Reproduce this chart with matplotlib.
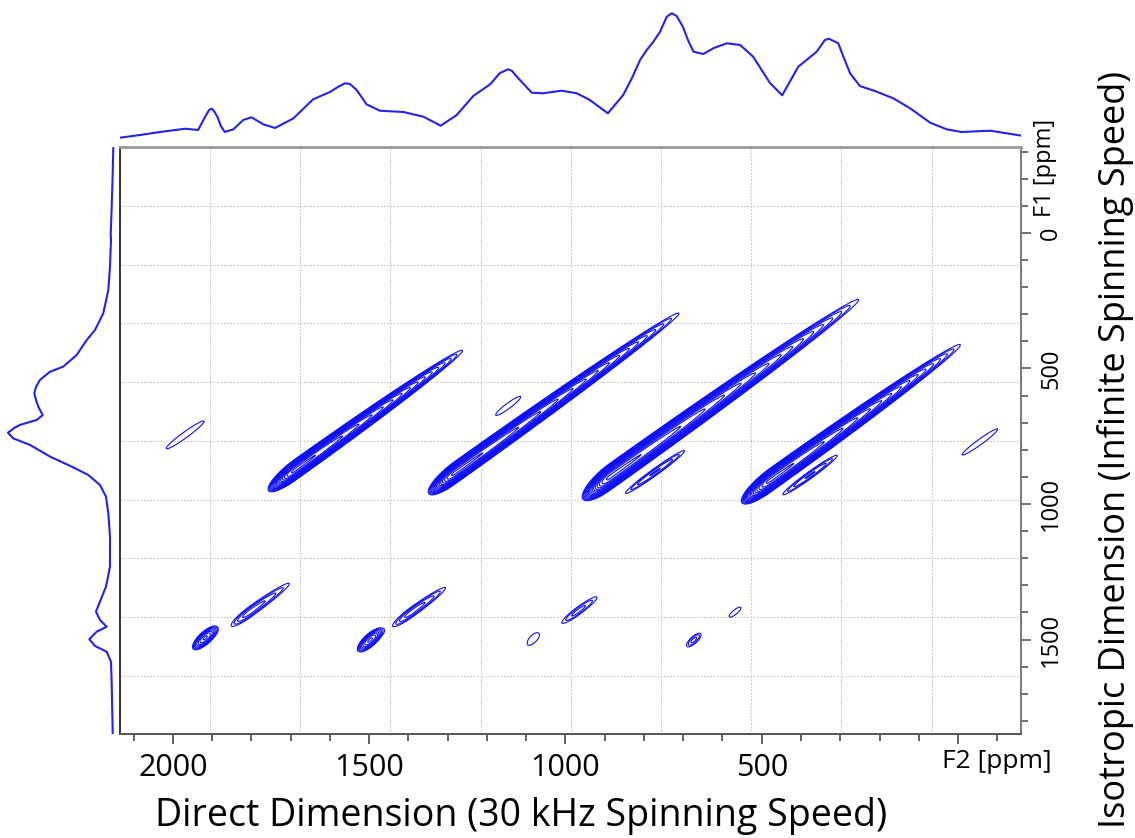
import numpy as np
import matplotlib.pyplot as plt

plt.rcParams['font.family'] = ['Open Sans', 'DejaVu Sans']

# F2 projection (ppm, intensity)
top_ppm = [2135, 2084, 2033, 1969, 1936, 1918, 1908, 1901, 1894, 1887, 1878, 1868,
           1846, 1821, 1800, 1770, 1740, 1693, 1643, 1600, 1580, 1562, 1549, 1532,
           1507, 1473, 1413, 1362, 1318, 1277, 1235, 1192, 1167, 1146, 1136, 1124,
           1086, 1057, 1010, 971, 938, 892, 853, 831, 810, 793, 776, 759, 742, 729,
           717, 701, 688, 674, 649, 622, 589, 555, 522, 479, 448, 407, 360, 339,
           329, 305, 292, 275, 250, 207, 165, 122, 71, 29, -9, -82, -124, -162]
top_int = [0.3, 3, 6, 9.3, 8, 21.3, 28, 29.3, 26, 21.3, 12, 6,
           8.7, 18, 20.7, 13.7, 10, 19.7, 38.7, 46, 51, 54.7, 54, 48,
           33.7, 27.3, 26, 21.3, 12.3, 23, 42, 53.7, 65, 68.7, 67, 61.3,
           45.3, 44.7, 47.3, 44.7, 38, 24.7, 43, 59.7, 78, 88, 96.3, 106.3, 121.3, 124.7,
           122, 111.3, 98, 86.3, 84, 90, 94.7, 93, 81.3, 55, 42.7, 71.3, 86.3, 98,
           99.3, 94.7, 81.3, 64.7, 52, 46.3, 39.7, 29.7, 15.3, 8.7, 6, 7.3, 4.7, 2.3]

# F1 projection (ppm, intensity)
left_ppm = [-318, -220, -97, 7, 26, 124, 210, 296, 358, 395, 450, 493, 512, 542,
            568, 592, 616, 641, 672, 690, 708, 720, 737, 758, 782, 825, 862, 893,
            930, 973, 1034, 1121, 1231, 1305, 1360, 1397, 1428, 1453, 1471, 1499,
            1524, 1545, 1582, 1662, 1772, 1846]
left_int = [0.7, 1.3, 2.3, 3.3, 3, 4, 5.7, 10.7, 19, 27.3, 37.3, 50.7, 64, 74,
            78, 79.7, 78, 75.7, 71.3, 77.3, 94, 100, 106, 100.7, 84, 64, 42.3, 25.7,
            14, 8, 5.7, 4, 4, 8, 14, 18, 14, 7.3, 17.3, 24.7,
            19, 7.3, 3, 2.3, 1.7, 1.3]

# 2D peaks: position (F2, F1), height, widths along the ridge (low / high side) and across
peak_f2 = [1690, 1282, 887, 479, 1969, 1146, 772, 377, -56,
           1918, 1804, 1498, 1391, 1083, 968, 673, 568]
peak_f1 = [875, 885, 900, 913, 745, 638, 882, 893, 771,
           1494, 1398, 1502, 1398, 1498, 1395, 1502, 1399]
peak_amp = [30, 30, 30, 30, 1.2, 1.2, 2.0, 2.0, 1.2,
            5, 2.2, 5, 2.2, 1.2, 1.7, 1.7, 1.2]
peak_lo = [26, 26, 27, 28, 80, 53, 64, 59, 75,
           18, 38, 18, 39, 24, 40, 18, 25]
peak_hi = [164, 219, 243, 186, 80, 53, 64, 59, 75,
           18, 80, 18, 68, 24, 47, 18, 25]
peak_w = [15, 16, 19, 17, 22, 20, 13, 13, 20,
          16, 17, 16, 16, 28, 16, 16, 17]
ridge_slope = 1.03

f2 = np.linspace(-170, 2140, 1500)
f1 = np.linspace(-320, 1850, 1200)
F2, F1 = np.meshgrid(f2, f1)
Z = np.zeros_like(F2)
for x0, y0, a, slo, shi, sw in zip(peak_f2, peak_f1, peak_amp, peak_lo, peak_hi, peak_w):
    t = F2 - x0
    d = (F1 - y0) - ridge_slope * t
    st = np.where(t > 0, slo, shi)
    Z += a * np.exp(-0.5 * (t / st) ** 2 - 0.5 * (d / sw) ** 2)

levels = 1.25 ** np.arange(16)

fig = plt.figure(figsize=(11.35, 8.38), dpi=100)
W, H = 1135, 838
x_lim = (2135, -160.5)
y_lim = (1848.7, -317.3)

ax = fig.add_axes([120 / W, 1 - 734 / H, 901 / W, 587 / H])
ax.contour(F2, F1, Z, levels=levels, colors='#1010f5', linewidths=0.8)
ax.set_xlim(x_lim)
ax.set_ylim(y_lim)

# dotted grid
for g in [1906, 1676, 1447, 1215, 986, 757, 527, 298, 66]:
    ax.axvline(g, color='#c4c4c4', lw=0.8, ls=(0, (1.5, 1.5)), zorder=0)
for g in [-100, 118, 332, 550, 768, 985, 1199, 1417, 1635]:
    ax.axhline(g, color='#c4c4c4', lw=0.8, ls=(0, (1.5, 1.5)), zorder=0)

ax.set_xticks([2000, 1500, 1000, 500, 0])
ax.set_xticklabels(['2000', '1500', '1000', '500', ''])
ax.set_xticks(np.arange(-100, 2200, 100), minor=True)
ax.yaxis.tick_right()
ax.set_yticks([0, 500, 1000, 1500])
ax.set_yticklabels(['0', '500', '1000', '1500'])
ax.set_yticks(np.arange(-300, 1900, 100), minor=True)
ax.tick_params(axis='x', which='major', length=7, width=1.2, color='#444',
               labelsize=22, pad=7)
ax.tick_params(axis='x', which='minor', length=5, width=1.2, color='#444')
ax.tick_params(axis='y', which='major', length=7, width=1.2, color='#555',
               labelsize=17, pad=6, labelrotation=90)
ax.tick_params(axis='y', which='minor', length=5, width=1.2, color='#555')
for lab in ax.get_yticklabels():
    lab.set_va('center')

ax.spines['left'].set_color('#333')
ax.spines['bottom'].set_color('#555')
ax.spines['top'].set_color('#999')
ax.spines['right'].set_color('#777')
ax.spines['top'].set_linewidth(2)
for s in ['left', 'bottom', 'right']:
    ax.spines[s].set_linewidth(1.4)

fig.text(997 / W, 1 - 761 / H, 'F2 [ppm]', fontsize=19, ha='center', va='center')
fig.text(1045 / W, 1 - 168 / H, 'F1 [ppm]', fontsize=17, ha='center', va='center',
         rotation=90)

# projections
ax_top = fig.add_axes([120 / W, 1 - 140 / H, 901 / W, 135 / H])
ax_top.plot(top_ppm, top_int, color='#2222ee', lw=1.5)
ax_top.set_xlim(x_lim)
ax_top.set_ylim(-2, 133)
ax_top.axis('off')

ax_left = fig.add_axes([2 / W, 1 - 734 / H, 116 / W, 587 / H])
ax_left.plot(left_int, left_ppm, color='#2222ee', lw=1.5)
ax_left.set_xlim(112, -4)
ax_left.set_ylim(y_lim)
ax_left.axis('off')

fig.text(521 / W, 1 - 816 / H, 'Direct Dimension (30 kHz Spinning Speed)',
         fontsize=27, ha='center', va='center')
fig.text(1115 / W, 1 - 449 / H, 'Isotropic Dimension (Infinite Spinning Speed)',
         fontsize=26, ha='center', va='center', rotation=90)

fig.savefig('out.png', dpi=100, facecolor='white')
